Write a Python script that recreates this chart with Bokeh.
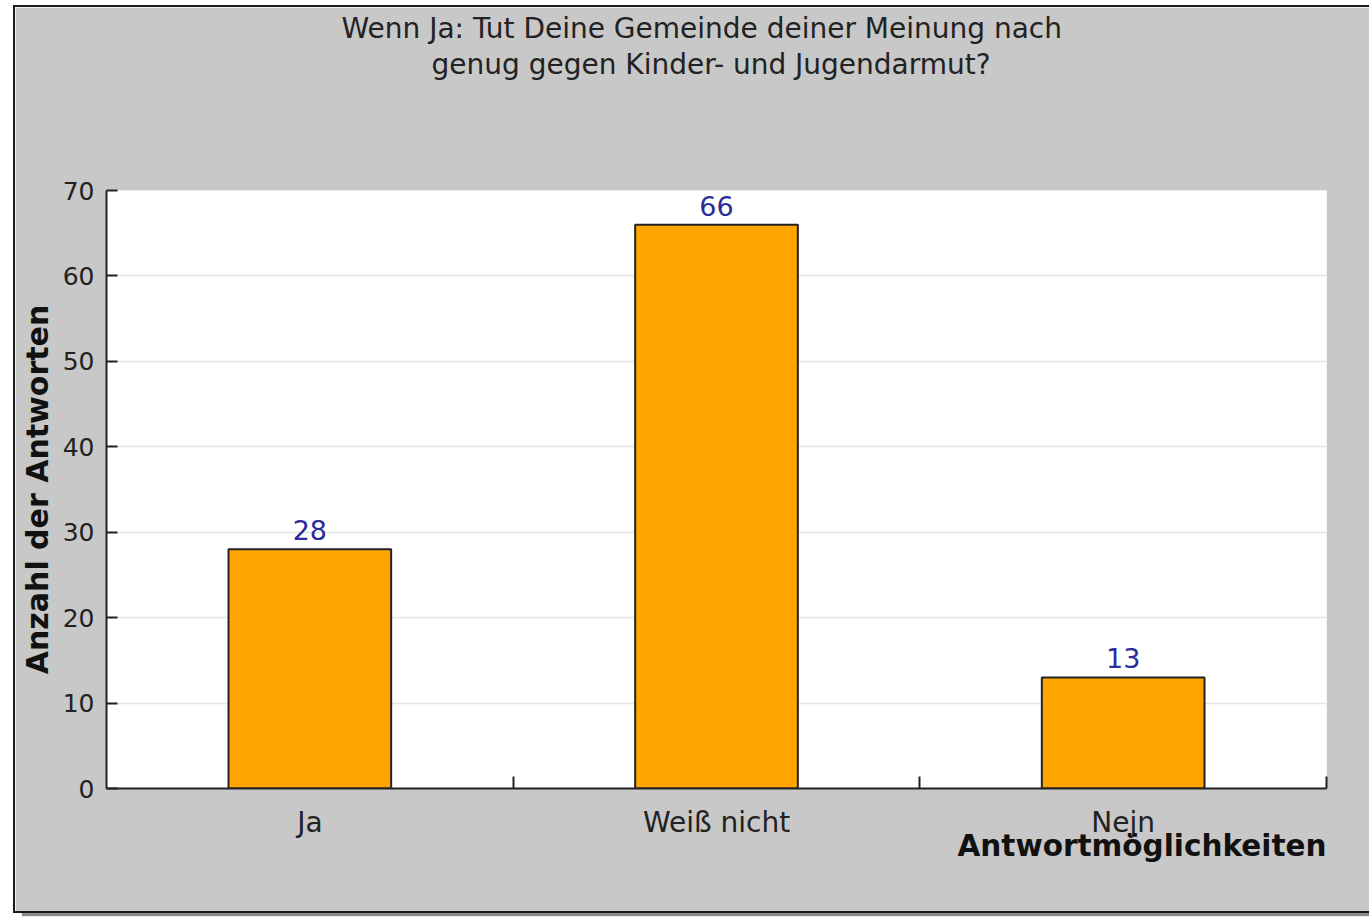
from bokeh.plotting import figure
from bokeh.models import Range1d, FixedTicker, LabelSet, Title, ColumnDataSource
from bokeh.core.properties import value
from bokeh.embed import file_html
from bokeh.resources import INLINE

# ---- data ----
categories = ["Ja", "Weiß nicht", "Nejn"]
counts = [28, 66, 13]
y_ticks = [0, 10, 20, 30, 40, 50, 60, 70]
title_lines = ["Wenn Ja: Tut Deine Gemeinde deiner Meinung nach",
               "genug gegen Kinder- und Jugendarmut?"]
y_label = "Anzahl der Antworten"
x_label = "Antwortmöglichkeiten"

centers = [i + 0.5 for i in range(len(categories))]
bounds = [i + 1.0 for i in range(len(categories))]

FONT = "DejaVu Sans"
GRAY = "#c8c8c8"
DARK = "#222222"

p = figure(
    width=1356, height=908,
    x_range=Range1d(0, len(categories)), y_range=Range1d(0, 70),
    output_backend="svg", toolbar_location=None, title=None,
    min_border_left=91, min_border_right=45, min_border_top=183, min_border_bottom=127,
    border_fill_color=GRAY, background_fill_color="white",
    outline_line_color=None,
)
p.margin = (5, 0, 0, 13)
p.styles = {"border-left": "2px solid #1a1a1a", "border-top": "2px solid #1a1a1a",
            "border-bottom": "2px solid #1a1a1a", "box-shadow": "9px 3px 1px #8a8a8a"}

src = ColumnDataSource(dict(x=centers, top=counts, lab=[str(c) for c in counts]))
p.vbar(x="x", top="top", width=0.4, source=src, fill_color="#FFA500",
       line_color=DARK, line_width=2)

p.add_layout(LabelSet(x="x", y="top", text="lab", source=src, y_offset=9,
                      text_align="center", text_baseline="alphabetic",
                      text_color="#2b2b99", text_font_size=value("27px"),
                      text_font=value(FONT)))

# y axis
yax = p.yaxis[0]
yax.ticker = FixedTicker(ticks=y_ticks)
yax.major_tick_in = 11
yax.major_tick_out = 0
yax.minor_tick_line_color = None
yax.major_tick_line_color = DARK
yax.major_tick_line_width = 2
yax.axis_line_color = DARK
yax.axis_line_width = 2
yax.major_label_text_font = FONT
yax.major_label_text_font_size = "25px"
yax.major_label_text_color = DARK
yax.major_label_standoff = 12
yax.axis_label = y_label
yax.axis_label_text_font = FONT
yax.axis_label_text_font_style = "bold"
yax.axis_label_text_font_size = "30px"
yax.axis_label_text_color = "#111111"
yax.axis_label_standoff = 5

# x axis
xax = p.xaxis[0]
xax.ticker = FixedTicker(ticks=centers, minor_ticks=bounds)
xax.major_label_overrides = {c: lab for c, lab in zip(centers, categories)}
xax.major_tick_line_color = None
xax.minor_tick_in = 12
xax.minor_tick_out = 0
xax.minor_tick_line_color = DARK
xax.minor_tick_line_width = 2
xax.axis_line_color = DARK
xax.axis_line_width = 2
xax.major_label_text_font = FONT
xax.major_label_text_font_size = "28px"
xax.major_label_text_color = DARK
xax.major_label_standoff = 11

p.xgrid.grid_line_color = None
p.ygrid.grid_line_color = "#e4e4e4"
p.ygrid.grid_line_width = 1.5

# title: spacer next to the frame, then line 2, then line 1
spacer = Title(text=" ", standoff=108, text_font_size="1px")
t2 = Title(text=title_lines[1], align="left", offset=325, standoff=-4, vertical_align="middle",
           text_font=FONT, text_font_size="28px", text_font_style="normal", text_color=DARK)
t1 = Title(text=title_lines[0], align="left", offset=235, standoff=6, vertical_align="middle",
           text_font=FONT, text_font_size="28px", text_font_style="normal", text_color=DARK)
p.add_layout(spacer, "above")
p.add_layout(t2, "above")
p.add_layout(t1, "above")

# x-axis label as a right-aligned title below the axis
p.add_layout(Title(text=x_label, align="right", standoff=-30, text_font=FONT,
                   text_font_size="29.5px", text_font_style="bold", text_color="#111111"),
             "below")

open("out.html", "w").write(file_html(p, INLINE))
